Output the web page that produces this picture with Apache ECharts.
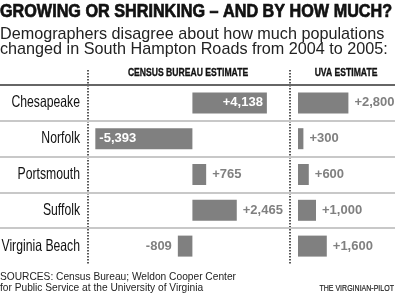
<!DOCTYPE html>
<html><head><meta charset="utf-8">
<script src="https://cdn.jsdelivr.net/npm/echarts@6/dist/echarts.min.js"></script>
<style>html,body{margin:0;padding:0;background:#fff}#c{width:400px;height:296px}</style>
</head><body><div id="c"></div>
<script>
const cities = ['Chesapeake', 'Norfolk', 'Portsmouth', 'Suffolk', 'Virginia Beach'];
const censusValues = [4138, -5393, 765, 2465, -809];
const uvaValues = [2800, 300, 600, 1000, 1600];
const columnHeaders = ['CENSUS BUREAU ESTIMATE', 'UVA ESTIMATE'];
const titleText = 'GROWING OR SHRINKING \u2013 AND BY HOW MUCH?';
const subtitleLines = ['Demographers disagree about how much populations', 'changed in South Hampton Roads from 2004 to 2005:'];
const sourceLines = ['SOURCES: Census Bureau; Weldon Cooper Center', 'for Public Service at the University of Virginia'];
const creditText = 'THE VIRGINIAN-PILOT';

const SANS = '"Liberation Sans", Arial, sans-serif';
const BAR = '#808080';
const fmt = v => (v > 0 ? '+' : '') + v.toLocaleString('en-US');

function barData(vals) {
  return vals.map(v => {
    const inside = Math.abs(v) > 3000;
    return {
      value: v,
      label: {
        position: inside ? (v > 0 ? 'insideRight' : 'insideLeft') : (v > 0 ? 'right' : 'left'),
        color: inside ? '#ffffff' : '#808080',
        distance: inside ? 4 : 6
      }
    };
  });
}

const gridTop = 85, gridH = 179;
const chart = echarts.init(document.getElementById('c'), null, {renderer: 'canvas'});
const labelCommon = {show: true, formatter: p => fmt(p.value), fontFamily: SANS, fontWeight: 'bold', fontSize: 13};

function condensedText(text, x, y, font, scaleX, align, fill, strokeW) {
  const st = {text: text, x: 0, y: 0, font: font, fill: fill || '#111', align: align, verticalAlign: 'middle'};
  if (strokeW) { st.stroke = fill || '#111'; st.lineWidth = strokeW; }
  return {type: 'text', x: x, y: y, scaleX: scaleX, style: st};
}

chart.setOption({
  animation: false,
  backgroundColor: '#fff',
  grid: [
    {left: 0, right: 5, top: gridTop, height: gridH, outerBoundsMode: 'none', containLabel: false},
    {left: 88, width: 201.6, top: gridTop, height: gridH, outerBoundsMode: 'none', containLabel: false},
    {left: 289, width: 109.8, top: gridTop, height: gridH, outerBoundsMode: 'none', containLabel: false}
  ],
  xAxis: [
    {gridIndex: 0, type: 'value', show: false, min: 0, max: 1},
    {gridIndex: 1, type: 'value', show: false, min: -5800, max: 5400},
    {gridIndex: 2, type: 'value', show: false, min: -500, max: 5600}
  ],
  yAxis: [
    {gridIndex: 0, type: 'category', data: cities, inverse: true,
     axisLine: {show: false}, axisTick: {show: false}, axisLabel: {show: false},
     splitLine: {show: true, lineStyle: {width: 2, color: ['#666666', '#c8c8c8', '#c8c8c8', '#c8c8c8', '#c8c8c8', 'rgba(0,0,0,0)']}}},
    {gridIndex: 1, type: 'category', data: cities, inverse: true,
     axisLine: {show: false}, axisTick: {show: false}, splitLine: {show: false}, axisLabel: {show: false}},
    {gridIndex: 2, type: 'category', data: cities, inverse: true, show: false}
  ],
  series: [
    {type: 'bar', name: columnHeaders[0], xAxisIndex: 1, yAxisIndex: 1, data: barData(censusValues),
     barWidth: 21, itemStyle: {color: BAR}, label: labelCommon},
    {type: 'bar', name: columnHeaders[1], xAxisIndex: 2, yAxisIndex: 2, data: barData(uvaValues),
     barWidth: 21, itemStyle: {color: BAR}, label: labelCommon},
    {type: 'custom', name: 'city labels', xAxisIndex: 1, yAxisIndex: 1, silent: true,
     data: cities.map((c, i) => [0, i]),
     encode: {x: 0, y: 1},
     renderItem: function (params, api) {
       const cy = api.coord([0, api.value(1)])[1];
       return condensedText(cities[params.dataIndex], params.coordSys.x - 8, cy, '16.5px ' + SANS, 0.74, 'right', '#111');
     }}
  ],
  graphic: [
    condensedText(titleText, 0, 12, 'bold 18.5px ' + SANS, 0.875, 'left', '#111', 0.7),
    {type: 'text', style: {text: subtitleLines[0], x: 0, y: 35, font: '16.2px ' + SANS, fill: '#222', align: 'left', verticalAlign: 'middle'}},
    {type: 'text', style: {text: subtitleLines[1], x: 0, y: 50, font: '16.2px ' + SANS, fill: '#222', align: 'left', verticalAlign: 'middle'}},
    condensedText(columnHeaders[0], 188, 73.5, 'bold 10px ' + SANS, 0.86, 'center', '#111', 0.3),
    condensedText(columnHeaders[1], 346, 73.5, 'bold 10px ' + SANS, 0.86, 'center', '#111', 0.3),
    {type: 'line', shape: {x1: 88, y1: 70, x2: 88, y2: 265}, style: {stroke: '#222', lineWidth: 1.5, lineDash: [1.5, 1.5]}},
    {type: 'line', shape: {x1: 290, y1: 70, x2: 290, y2: 265}, style: {stroke: '#222', lineWidth: 1.5, lineDash: [1.5, 1.5]}},
    {type: 'text', style: {text: sourceLines[0], x: 0, y: 277, font: '10.2px ' + SANS, fill: '#222', align: 'left', verticalAlign: 'middle'}},
    {type: 'text', style: {text: sourceLines[1], x: 0, y: 288, font: '10.2px ' + SANS, fill: '#222', align: 'left', verticalAlign: 'middle'}},
    condensedText(creditText, 394, 288, '9.5px ' + SANS, 0.74, 'right', '#222', 0.2)
  ]
});
</script></body></html>
